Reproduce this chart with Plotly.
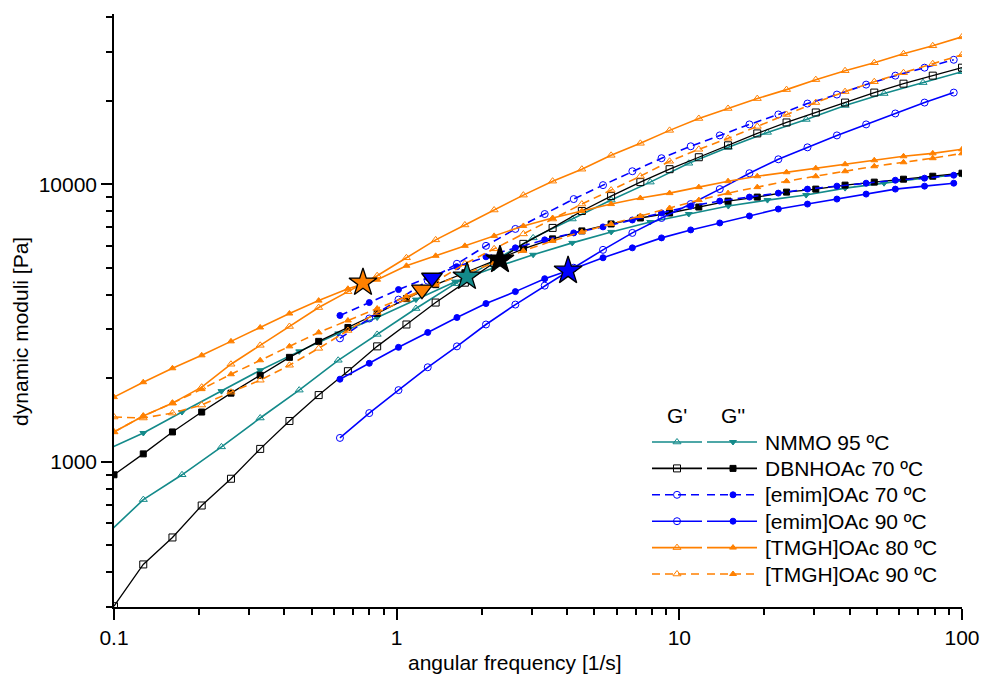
import plotly.graph_objects as go

# ---------------- data ----------------
# angular frequency grids [1/s]
freq = [0.1, 0.1269, 0.161, 0.2043, 0.2593, 0.329, 0.4175, 0.5298, 0.6723, 0.8531,
        1.083, 1.374, 1.743, 2.212, 2.807, 3.562, 4.520, 5.736, 7.279, 9.237,
        11.72, 14.87, 18.87, 23.95, 30.39, 38.57, 48.94, 62.10, 78.80, 100]
freq_nmmo = [0.0925, 0.127, 0.174, 0.240, 0.329, 0.452, 0.621, 0.853, 1.17, 1.61,
             2.21, 3.04, 4.18, 5.74, 7.89, 10.8, 14.9, 20.5, 28.1, 38.6, 53.0, 72.8, 100]
freq_emim = [0.63, 0.80, 1.015, 1.288, 1.634, 2.07, 2.63, 3.34, 4.23, 5.37, 6.82,
             8.65, 10.97, 13.9, 17.7, 22.4, 28.4, 36.1, 45.8, 58.1, 73.7, 93.5]

# NMMO 95 C
nmmo_gp = [538, 731, 898, 1132, 1438, 1812, 2321, 2876, 3565, 4381, 5300, 6404,
           7490, 8762, 10170, 11890, 13570, 15360, 17100, 19200, 21200, 23210, 25410]
nmmo_gpp = [1095, 1270, 1511, 1797, 2137, 2499, 2900, 3309, 3839, 4455, 5000, 5567,
            6144, 6730, 7306, 7806, 8339, 8762, 9134, 9676, 10080, 10510, 10860]

# DBNHOAc 70 C
dbn_gp = [302, 427, 534, 696, 869, 1113, 1403, 1739, 2120, 2605, 3123, 3746, 4418,
          5210, 6094, 6956, 8002, 9057, 10170, 11320, 12500, 13800, 15230, 16680,
          18120, 19670, 21370, 23010, 24590, 26270]
dbn_gpp = [898, 1068, 1281, 1511, 1767, 2050, 2378, 2715, 3047, 3420, 3871, 4345,
           4797, 5297, 5848, 6352, 6785, 7188, 7553, 7872, 8272, 8690, 8983, 9361,
           9597, 9918, 10170, 10420, 10680, 10950]

# [emim]OAc 70 C
emim70_gp = [2783, 3282, 3839, 4491, 5168, 5996, 6898, 7806, 8836, 9918, 11130,
             12400, 13690, 14980, 16410, 17820, 19510, 21020, 22830, 24590, 26270, 28050]
emim70_gpp = [3365, 3746, 4171, 4604, 5041, 5474, 5897, 6300, 6674, 7015, 7430,
              7872, 8339, 8690, 8983, 9284, 9597, 9836, 10080, 10330, 10510, 10770]

# [emim]OAc 90 C
emim90_gp = [1219, 1498, 1812, 2190, 2605, 3123, 3684, 4309, 5000, 5800, 6674,
             7553, 8477, 9597, 10950, 12290, 13570, 14980, 16410, 17970, 19670, 21370]
emim90_gpp = [1984, 2264, 2584, 2924, 3309, 3715, 4102, 4565, 4958, 5430, 5897,
              6404, 6842, 7248, 7680, 8135, 8477, 8836, 9209, 9597, 9836, 10080]

# [TMGH]OAc 80 C
tmgh80_gp = [1281, 1462, 1627, 1857, 2246, 2627, 3072, 3594, 4100, 4680, 5430, 6300,
             7130, 8070, 9130, 10250, 11320, 12700, 14030, 15620, 17240, 18730, 20330,
             21900, 23790, 25620, 27370, 29480, 31500, 33920]
tmgh80_gpp = [1710, 1935, 2172, 2418, 2715, 3047, 3420, 3807, 4200, 4528, 5083, 5520,
              5996, 6511, 7072, 7553, 8002, 8477, 8910, 9284, 9755, 10250, 10680,
              11040, 11410, 11800, 12190, 12600, 12910, 13350]

# [TMGH]OAc 90 C
tmgh90_gp = [1450, 1438, 1498, 1601, 1782, 1967, 2227, 2562, 2972, 3448, 3850, 4450,
             5168, 5848, 6619, 7490, 8477, 9517, 10680, 12090, 13350, 14620, 16140,
             17820, 19670, 21540, 23390, 25200, 27150, 29240]
tmgh90_gpp = [1281, 1462, 1627, 1827, 2067, 2321, 2605, 2924, 3228, 3565, 3950, 4345,
              4758, 5210, 5754, 6247, 6730, 7188, 7680, 8204, 8762, 9284, 9755, 10250,
              10680, 11130, 11600, 11990, 12400, 12910]

# crossover points (G' = G'')
cross_x = [0.760, 1.229, 1.333, 1.773, 2.32, 4.04]
cross_y = [4418, 4170, 4602, 4642, 5341, 4877]
cross_symbol = ["star", "triangle-down", "triangle-down", "star", "star", "star"]
cross_color = ["#FF8000", "#FF8000", "#0000FF", "#138A8A", "#000000", "#0000FF"]

legend_labels = ["NMMO 95 ºC", "DBNHOAc 70 ºC", "[emim]OAc 70 ºC",
                 "[emim]OAc 90 ºC", "[TMGH]OAc 80 ºC", "[TMGH]OAc 90 ºC"]

# ---------------- styles ----------------
TEAL = "#138A8A"
BLACK = "#000000"
BLUE = "#0000FF"
ORANGE = "#FF8000"
DASH = "8px,5px"
FONT = "Arial, Liberation Sans, sans-serif"

series = [
    # x, G', G'', color, dash, G' symbol, G'' symbol
    (freq_nmmo, nmmo_gp, nmmo_gpp, TEAL, "solid", "triangle-up-open", "triangle-down"),
    (freq, dbn_gp, dbn_gpp, BLACK, "solid", "square-open", "square"),
    (freq_emim, emim70_gp, emim70_gpp, BLUE, DASH, "circle-open", "circle"),
    (freq_emim, emim90_gp, emim90_gpp, BLUE, "solid", "circle-open", "circle"),
    (freq, tmgh80_gp, tmgh80_gpp, ORANGE, "solid", "triangle-up-open", "triangle-up"),
    (freq, tmgh90_gp, tmgh90_gpp, ORANGE, DASH, "triangle-up-open", "triangle-up"),
]

fig = go.Figure()

for x, gp, gpp, col, dash, s1, s2 in series:
    lw = 1.3 if col == BLACK else 1.6
    fig.add_trace(go.Scatter(
        x=x, y=gp, mode="lines+markers",
        line=dict(color=col, width=lw, dash=dash),
        marker=dict(symbol=s1, size=7, color=col, opacity=1,
                    line=dict(color=col, width=1)),
        showlegend=False, hoverinfo="skip"))
    fig.add_trace(go.Scatter(
        x=x, y=gpp, mode="lines+markers",
        line=dict(color=col, width=lw, dash=dash),
        marker=dict(symbol=s2, size=6, color=col, opacity=1,
                    line=dict(color=col, width=1)),
        showlegend=False, hoverinfo="skip"))

fig.add_trace(go.Scatter(
    x=cross_x, y=cross_y, mode="markers",
    marker=dict(symbol=cross_symbol, size=[21, 18, 18, 21, 21, 21], color=cross_color,
                opacity=1, line=dict(color="black", width=1.3)),
    showlegend=False, hoverinfo="skip"))

# ---------------- custom legend (overlay pixel-like axes) ----------------
row_y0, row_dy = 442, 26.4
for i, (x, gp, gpp, col, dash, s1, s2) in enumerate(series):
    yy = row_y0 + i * row_dy
    for (xa, xb, xm, sym, sz) in [(652, 702, 677, s1, 7), (707, 757, 733, s2, 6)]:
        fig.add_trace(go.Scatter(
            x=[xa, xb], y=[yy, yy], mode="lines", xaxis="x2", yaxis="y2",
            line=dict(color=col, width=1.6, dash=dash),
            showlegend=False, hoverinfo="skip"))
        fig.add_trace(go.Scatter(
            x=[xm], y=[yy], mode="markers", xaxis="x2", yaxis="y2",
            marker=dict(symbol=sym, size=sz, color=col, opacity=1,
                        line=dict(color=col, width=1)),
            showlegend=False, hoverinfo="skip"))
    fig.add_annotation(x=763, y=yy, xref="x2", yref="y2", text=legend_labels[i],
                       showarrow=False, xanchor="left", yanchor="middle",
                       font=dict(family=FONT, size=21, color="black"))

fig.add_annotation(x=677, y=415, xref="x2", yref="y2", text="G'", showarrow=False,
                   xanchor="center", yanchor="middle",
                   font=dict(family=FONT, size=21, color="black"))
fig.add_annotation(x=733, y=415, xref="x2", yref="y2", text="G''", showarrow=False,
                   xanchor="center", yanchor="middle",
                   font=dict(family=FONT, size=21, color="black"))

# axis titles
fig.add_annotation(x=0.473, y=-0.093, xref="paper", yref="paper",
                   text="angular frequency [1/s]", showarrow=False,
                   xanchor="center", yanchor="middle",
                   font=dict(family=FONT, size=21, color="black"))
fig.add_annotation(x=-0.111, y=0.4654, xref="paper", yref="paper",
                   text="dynamic moduli [Pa]", showarrow=False, textangle=-90,
                   xanchor="center", yanchor="middle",
                   font=dict(family=FONT, size=21, color="black"))

axis_common = dict(
    type="log", showline=True, linecolor="black", linewidth=1.5,
    ticks="outside", ticklen=11, tickwidth=1.5, tickcolor="black",
    showgrid=False, zeroline=False, mirror=False, automargin=False,
    tickmode="linear", tick0=0, dtick=1, exponentformat="none",
    tickfont=dict(family=FONT, size=21, color="black"),
    minor=dict(ticks="outside", ticklen=6, tickwidth=1.5, tickcolor="black",
               dtick="D1", showgrid=False),
)

fig.update_layout(
    width=982, height=677,
    margin=dict(l=114, r=20, t=14, b=70),
    paper_bgcolor="white", plot_bgcolor="white",
    xaxis=dict(range=[-1, 2], **axis_common),
    yaxis=dict(range=[2.4771, 4.6128], tickformat="d", **axis_common),
    xaxis2=dict(overlaying="x", range=[114, 962], visible=False, anchor="y2"),
    yaxis2=dict(overlaying="y", range=[607, 14], visible=False, anchor="x2"),
    font=dict(family=FONT, size=21, color="black"),
)

fig.write_html("out.html")
